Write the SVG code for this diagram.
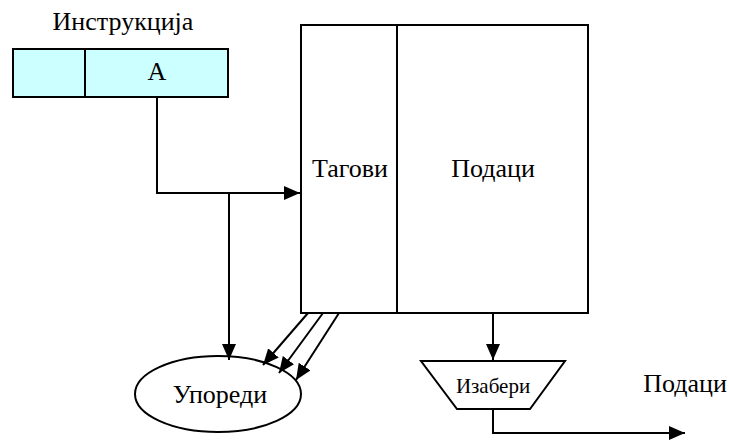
<svg xmlns="http://www.w3.org/2000/svg" width="729" height="441" viewBox="0 0 729 441">
  <style>
    .ln { stroke: #000; stroke-width: 2; fill: none; }
    .box { stroke: #000; stroke-width: 2; fill: #fff; }
    .t { font-family: "Liberation Serif", Tinos, "DejaVu Serif", "Noto Serif", serif; fill: #000; text-anchor: middle; }
    .big { font-size: 26px; }
    .small { font-size: 21px; }
  </style>
  <defs>
    <marker id="arr" viewBox="0 0 16 14" refX="16" refY="7" markerWidth="16" markerHeight="14" markerUnits="userSpaceOnUse" orient="auto">
      <path d="M0,0 L16,7 L0,14 Z" fill="#000"/>
    </marker>
  </defs>

  <!-- instruction register -->
  <g id="instr">
    <text class="t big" x="123" y="30">Инструкција</text>
    <rect x="13" y="49" width="215" height="48" fill="#ccffff" stroke="#000" stroke-width="2"/>
    <line x1="85" y1="49" x2="85" y2="97" class="ln"/>
    <text class="t big" x="157" y="80">A</text>
  </g>

  <!-- cache memory: tags and data -->
  <g id="cache">
    <rect x="301" y="25" width="287" height="288" class="box"/>
    <line x1="397" y1="25" x2="397" y2="313" class="ln"/>
    <text class="t big" x="350" y="177">Тагови</text>
    <text class="t big" x="493" y="177">Подаци</text>
  </g>

  <!-- comparator -->
  <g id="compare">
    <ellipse cx="218" cy="394" rx="83" ry="38" class="box"/>
    <text class="t big" x="220" y="403">Упореди</text>
  </g>

  <!-- selector -->
  <g id="select">
    <polygon points="421,361 565,361 530,409 457,409" class="box"/>
    <text class="t small" x="493" y="393">Изабери</text>
  </g>

  <!-- output label -->
  <g id="out">
    <text class="t big" x="685" y="392">Подаци</text>
  </g>

  <g id="connectors">
    <polyline points="157,97 157,193 300,193" class="ln" marker-end="url(#arr)"/>
    <line x1="229" y1="193" x2="229" y2="360" class="ln" marker-end="url(#arr)"/>
    <line x1="308" y1="313" x2="263" y2="365" class="ln" marker-end="url(#arr)"/>
    <line x1="323" y1="313" x2="279" y2="373" class="ln" marker-end="url(#arr)"/>
    <line x1="339" y1="313" x2="296" y2="380" class="ln" marker-end="url(#arr)"/>
    <line x1="493" y1="313" x2="493" y2="360" class="ln" marker-end="url(#arr)"/>
    <polyline points="493,409 493,433 685,433" class="ln" marker-end="url(#arr)"/>
  </g>
</svg>
